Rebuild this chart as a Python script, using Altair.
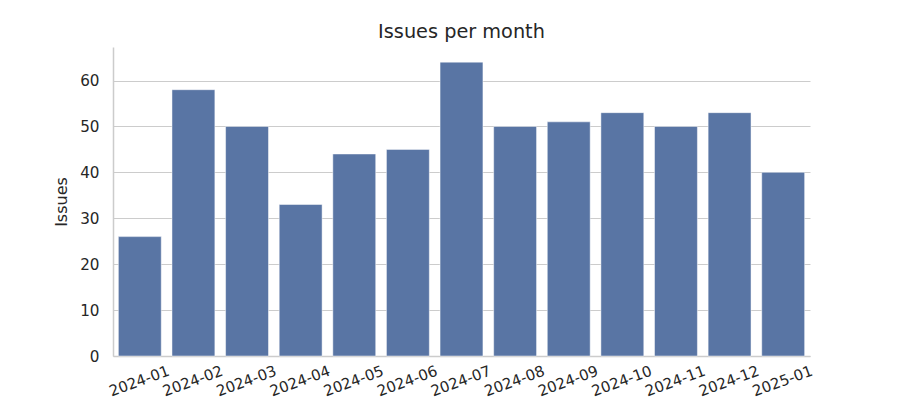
import altair as alt
import pandas as pd

months = ["2024-01", "2024-02", "2024-03", "2024-04", "2024-05", "2024-06", "2024-07",
          "2024-08", "2024-09", "2024-10", "2024-11", "2024-12", "2025-01"]
issues = [26, 58, 50, 33, 44, 45, 64, 50, 51, 53, 50, 53, 40]

df = pd.DataFrame({"month": months, "issues": issues})

FONT = "DejaVu Sans"
TXT = "#262626"

bars = alt.Chart(df).mark_bar(color="#5975a4", stroke="#ffffff", strokeWidth=0.8, strokeOpacity=0.6).encode(
    x=alt.X("month:N", sort=months, title=None,
            scale=alt.Scale(paddingInner=0.2, paddingOuter=0.1),
            axis=alt.Axis(labelAngle=-20, labelAlign="center", labelBaseline="top",
                          labelPadding=18, labelOffset=-3, ticks=False, grid=False, domain=True,
                          domainColor="#cccccc", domainWidth=1.5,
                          labelFont=FONT, labelFontSize=15, labelColor=TXT)),
    y=alt.Y("issues:Q", title="Issues",
            scale=alt.Scale(domain=[0, 67.3], nice=False, zero=True),
            axis=alt.Axis(values=[0, 10, 20, 30, 40, 50, 60], ticks=False,
                          grid=True, gridColor="#cccccc", gridWidth=1,
                          domain=True, domainColor="#cccccc", domainWidth=1.5,
                          labelPadding=14, labelFont=FONT, labelFontSize=15.2,
                          labelColor=TXT, titleFont=FONT, titleFontSize=16,
                          titleFontWeight="normal", titleColor=TXT, titlePadding=10)),
)

chart = bars.properties(
    width=697, height=309,
    background="white",
    title=alt.TitleParams("Issues per month", font=FONT, fontSize=19.3,
                          fontWeight="normal", color=TXT, anchor="middle", offset=5),
    autosize=alt.AutoSizeParams(type="none"),
    padding={"left": 113, "top": 47, "right": 90, "bottom": 44},
).configure_view(stroke=None)

chart.save("out.html", embed_options={"renderer": "svg", "actions": False})
